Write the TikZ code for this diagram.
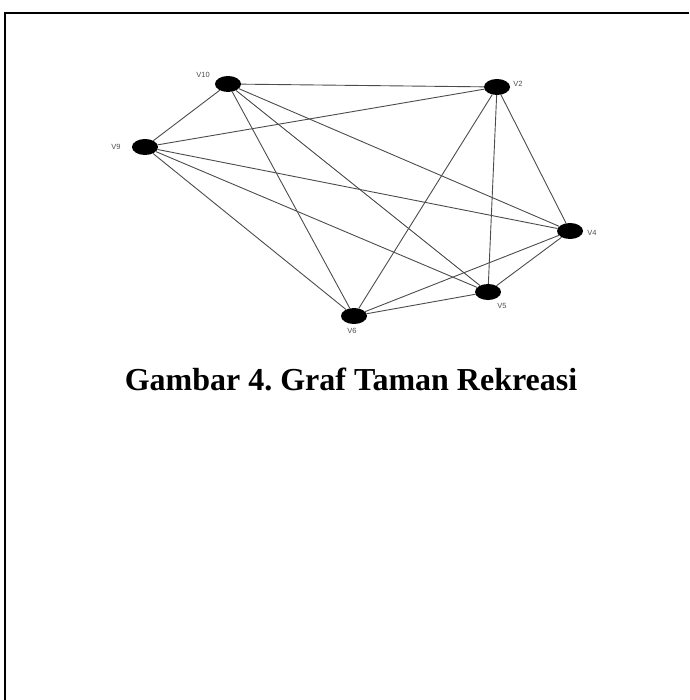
\documentclass[tikz,border=0pt]{standalone}
\usepackage{fontspec}
\setmainfont{Liberation Serif}
\setsansfont{Liberation Sans}
\frenchspacing
\tikzset{
  vtx/.style={ellipse,fill=black,minimum width=26pt,minimum height=16pt,inner sep=0pt},
  vlabel/.style={font=\sffamily\fontsize{7.5}{8}\selectfont,text=black!70},
  sisi/.style={black!70,line width=0.9pt}
}
\usetikzlibrary{shapes.geometric}
\begin{document}
\begin{tikzpicture}[x=1pt,y=-1pt]
			\useasboundingbox (0,0) rectangle (689,700);
			\draw[line width=2pt] (5,700) -- (5,13) -- (689,13);
			\node[vtx] (v10) at (228,84) {};
			\node[vtx] (v2) at (497,87) {};
			\node[vtx] (v9) at (145,147) {};
			\node[vtx] (v4) at (570,231) {};
			\node[vtx] (v5) at (488,292) {};
			\node[vtx] (v6) at (354,316) {};
			\node[vlabel] at (203,75) {V10};
			\node[vlabel] at (518,84) {V2};
			\node[vlabel] at (116,147) {V9};
			\node[vlabel] at (592,233) {V4};
			\node[vlabel] at (502,306) {V5};
			\node[vlabel] at (352,331) {V6};
			\foreach \a/\b in {v10/v2,v10/v9,v10/v6,v10/v5,v10/v4,v9/v2,v9/v4,v9/v5,v9/v6,v2/v6,v2/v5,v2/v4,v4/v5,v4/v6,v5/v6}
				\draw[sisi] (\a) -- (\b);
			\node[font=\bfseries\fontsize{32}{38}\selectfont] (judul) at (351,379) {Gambar 4. Graf Taman Rekreasi};
		\end{tikzpicture}
\end{document}
